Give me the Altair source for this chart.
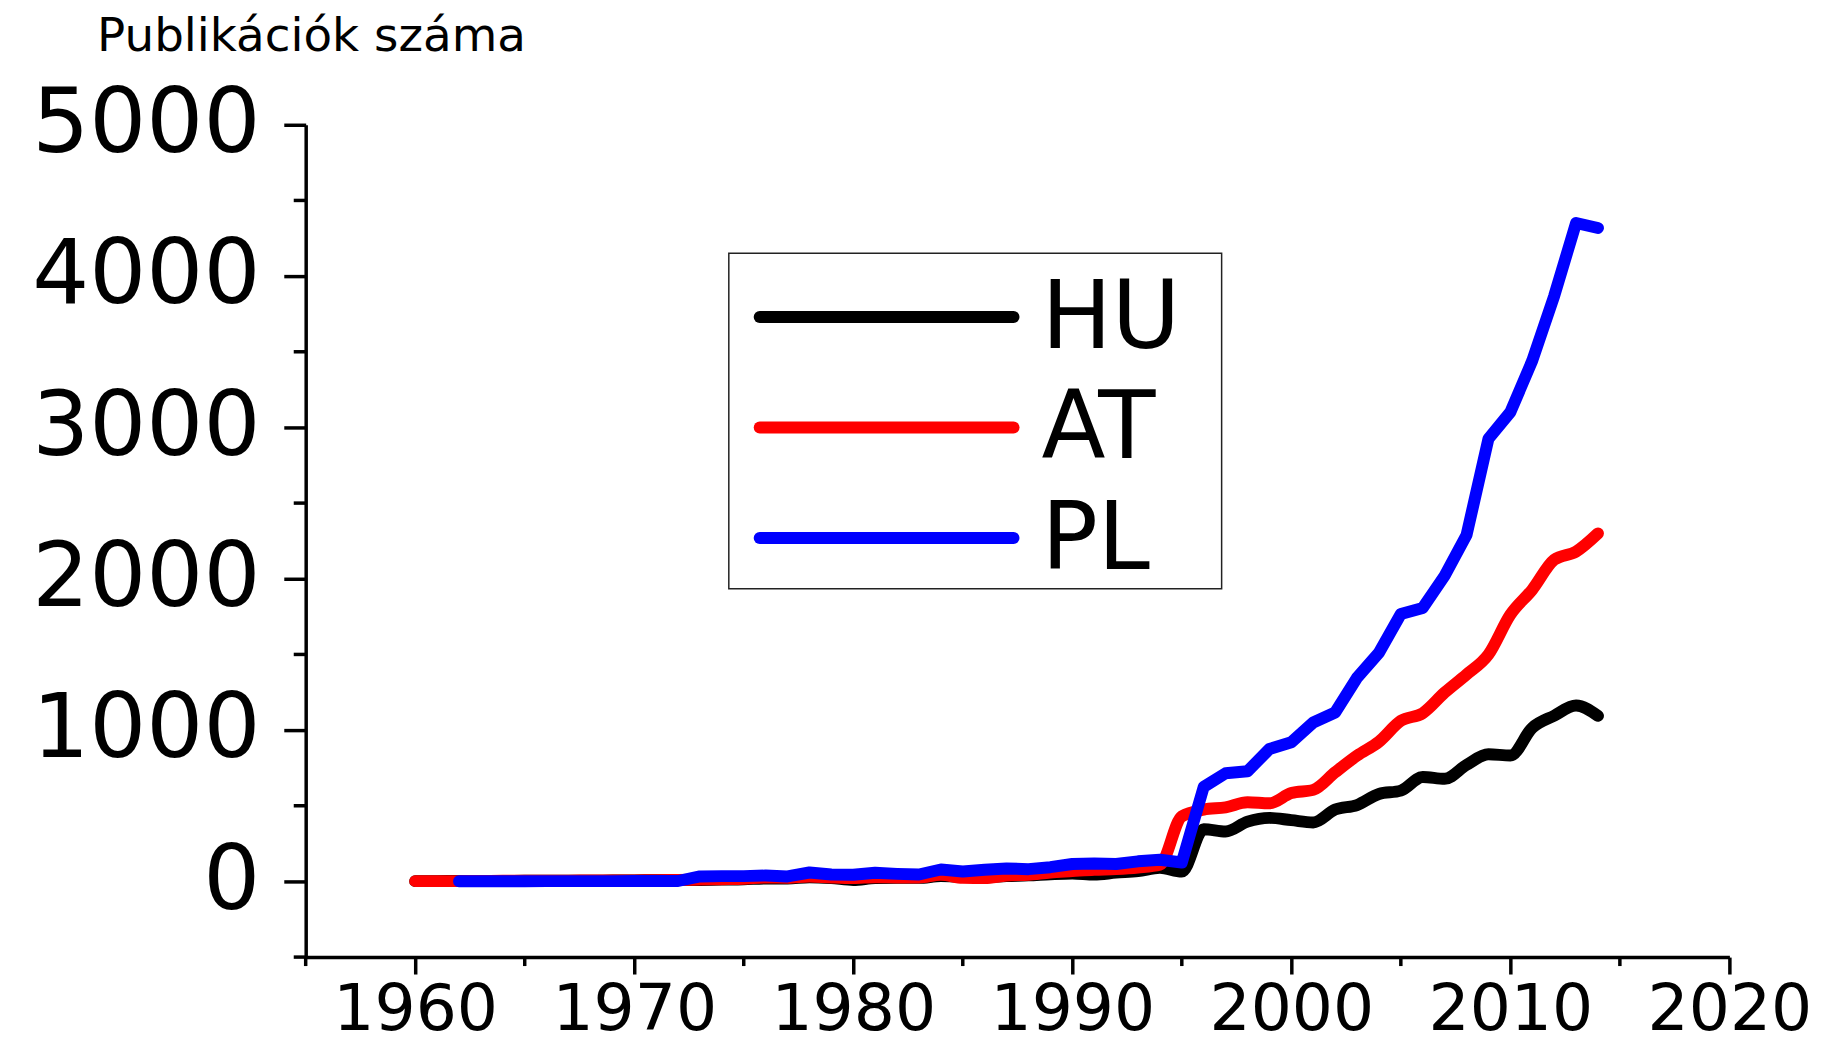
import altair as alt
import pandas as pd

# ---------------- data ----------------
YEARS_HU = list(range(1960, 2015))
HU = [2, 2, 3, 3, 3, 4, 4, 5, 5, 6,
      7, 8, 9, 10, 12, 14, 20, 20, 28, 22,
      10, 22, 24, 24, 35, 30, 28, 36, 40, 48,
      53, 45, 58, 68, 90, 65, 345, 330, 395, 420,
      405, 390, 475, 505, 578, 600, 690, 678, 770, 840,
      832, 1015, 1095, 1162, 1094]

YEARS_AT = list(range(1960, 2015))
AT = [2, 2, 2, 3, 4, 4, 5, 5, 6, 6,
      7, 8, 10, 12, 15, 18, 26, 24, 33, 26,
      22, 28, 26, 26, 44, 24, 22, 39, 44, 59,
      68, 77, 82, 92, 110, 430, 475, 490, 523, 516,
      584, 605, 721, 831, 923, 1061, 1112, 1248, 1368, 1500,
      1763, 1928, 2125, 2180, 2300]

YEARS_PL = list(range(1962, 2015))
PL = [1, 1, 1, 1, 2, 2, 2, 2,
      3, 3, 3, 33, 35, 35, 39, 33, 59, 46,
      44, 57, 50, 46, 79, 66, 77, 86, 81, 94,
      115, 118, 115, 133, 143, 125, 625, 715, 728, 875,
      920, 1050, 1116, 1346, 1511, 1767, 1807, 2020, 2289, 2925,
      3101, 3441, 3868, 4351, 4318]

SERIES = ["HU", "AT", "PL"]
COLORS = ["#000000", "#ff0000", "#0000ff"]

X_MAJOR = [1960, 1970, 1980, 1990, 2000, 2010, 2020]
X_MINOR = [1955, 1965, 1975, 1985, 1995, 2005, 2015]
Y_MAJOR = [0, 1000, 2000, 3000, 4000, 5000]
Y_MINOR = [-500, 500, 1500, 2500, 3500, 4500]

TITLE = "Publikációk száma"

# ---------------- tables ----------------
df = pd.concat([
    pd.DataFrame({"year": YEARS_HU, "value": HU, "country": "HU"}),
    pd.DataFrame({"year": YEARS_AT, "value": AT, "country": "AT"}),
    pd.DataFrame({"year": YEARS_PL, "value": PL, "country": "PL"}),
], ignore_index=True)

FONT = "DejaVu Sans"
W, H = 1430, 836
LW = 3.5
STROKE = 12

xscale = alt.Scale(domain=[1955, 2020], nice=False, zero=False)
yscale = alt.Scale(domain=[-500, 5000], nice=False, zero=False)
color = alt.Color("country:N", scale=alt.Scale(domain=SERIES, range=COLORS), legend=None)

x_axis = alt.Axis(values=X_MAJOR, format="d", title=None, grid=False,
                  domainColor="black", domainWidth=LW, tickColor="black",
                  tickWidth=LW, tickSize=17, labelFont=FONT, labelFontSize=65,
                  labelColor="black", labelPadding=5, labelFlush=False,
                  labelOverlap=False, labelLimit=400)
y_axis = alt.Axis(values=Y_MAJOR, format="d", title=TITLE, grid=False,
                  domainColor="black", domainWidth=LW, tickColor="black",
                  tickWidth=LW, tickSize=22, labelFont=FONT, labelFontSize=90,
                  labelColor="black", labelPadding=24, labelFlush=False,
                  labelOverlap=False, labelLimit=400, titleAngle=0,
                  titleAlign="left", titleBaseline="alphabetic", titleX=-210,
                  titleY=-75, titleFont=FONT, titleFontSize=47,
                  titleFontWeight="normal", titleColor="black", titleLimit=800)


def series_layer(name, interp, with_y_axis):
    return alt.Chart(df[df.country == name]).mark_line(
        strokeWidth=STROKE, strokeCap="round", strokeJoin="round", interpolate=interp
    ).encode(
        x=alt.X("year:Q", scale=xscale, axis=x_axis),
        y=alt.Y("value:Q", scale=yscale, axis=y_axis if with_y_axis else None),
        color=color,
    )


hu_line = series_layer("HU", "monotone", True)
at_line = series_layer("AT", "monotone", False)
pl_line = series_layer("PL", "linear", False)

x_minor = alt.Chart(pd.DataFrame({"x": X_MINOR})).mark_rule(
    color="black", strokeWidth=LW
).encode(
    x=alt.X("x:Q", scale=xscale, axis=x_axis),
    y=alt.value(H), y2=alt.value(H + 9),
)
y_minor = alt.Chart(pd.DataFrame({"y": Y_MINOR})).mark_rule(
    color="black", strokeWidth=LW
).encode(
    y=alt.Y("y:Q", scale=yscale, axis=None),
    x=alt.value(0), x2=alt.value(-12),
)

# ---------------- legend ----------------
leg_df = pd.DataFrame({"country": SERIES})
leg_y = alt.Y("country:N", axis=None,
              scale=alt.Scale(type="point", domain=SERIES, range=[193, 415], padding=0))

leg_box = alt.Chart(pd.DataFrame({"k": [0]})).mark_rect(
    fillOpacity=0, stroke="#222222", strokeWidth=1.5
).encode(x=alt.value(425), x2=alt.value(920), y=alt.value(129), y2=alt.value(466))

leg_lines = alt.Chart(leg_df).mark_rule(strokeWidth=STROKE, strokeCap="round").encode(
    y=leg_y, x=alt.value(456), x2=alt.value(711), color=color,
)
leg_text = alt.Chart(leg_df).mark_text(
    align="left", baseline="alphabetic", dy=31, font=FONT, fontSize=94, color="black"
).encode(y=leg_y, x=alt.value(739), text="country:N")

chart = alt.layer(
    hu_line, at_line, pl_line, x_minor, y_minor, leg_box, leg_lines, leg_text
).resolve_scale(y="independent").properties(
    width=W, height=H,
    autosize=alt.AutoSizeParams(type="none"),
    padding={"left": 299, "top": 115, "right": 88, "bottom": 86},
    background="white",
).configure_view(stroke=None)

chart.save("out.html", embed_options={"renderer": "svg", "actions": False})
